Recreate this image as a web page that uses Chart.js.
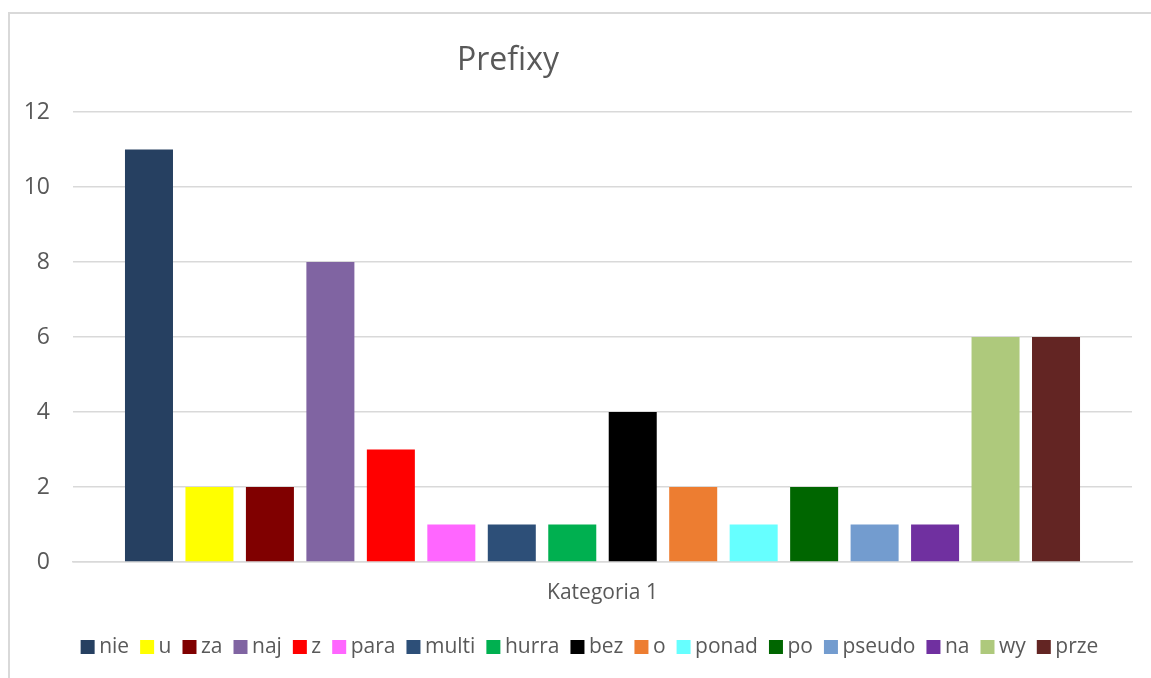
<!DOCTYPE html>
<html>
<head>
<meta charset="utf-8">
<script src="https://cdn.jsdelivr.net/npm/chart.js@4/dist/chart.umd.min.js"></script>
<style>
  html, body { margin: 0; padding: 0; background: #fff; }
  #wrap { width: 1151px; height: 678px; position: relative; }
</style>
</head>
<body>
<div id="wrap"><canvas id="chart"></canvas></div>
<script>
const categories = ["Kategoria 1"];
const seriesNames = ["nie", "u", "za", "naj", "z", "para", "multi", "hurra", "bez", "o", "ponad", "po", "pseudo", "na", "wy", "prze"];
const seriesValues = [11, 2, 2, 8, 3, 1, 1, 1, 4, 2, 1, 2, 1, 1, 6, 6];
const seriesColors = ["#264061", "#FFFF00", "#800000", "#8064A2", "#FF0000", "#FF66FF", "#2D4F78", "#00B050",
  "#000000", "#ED7D31", "#66FFFF", "#006600", "#739CCF", "#7030A0", "#AEC97C", "#632523"];
const yTicks = [0, 2, 4, 6, 8, 10, 12];

const textColor = "#595959";
const gridColor = "#D9D9D9";
const fontFamily = "'Open Sans', sans-serif";

// frame round the chart + the title, which sits left of centre in the original
const frameAndTitle = {
  id: "frameAndTitle",
  afterLayout(chart) {
    // legend in the original is centred a bit to the right of the canvas middle
    chart.legend.left += 15;
    chart.legend.right += 15;
  },
  beforeDraw(chart) {
    const ctx = chart.ctx;
    ctx.save();
    ctx.strokeStyle = gridColor;
    ctx.lineWidth = 2;
    ctx.beginPath();
    ctx.moveTo(9, chart.height);
    ctx.lineTo(9, 13);
    ctx.lineTo(chart.width, 13);
    ctx.stroke();
    ctx.fillStyle = textColor;
    ctx.font = "32px " + fontFamily;
    ctx.textAlign = "center";
    ctx.textBaseline = "middle";
    ctx.fillText("Prefixy", 508, 61);
    ctx.restore();
  }
};

const datasets = seriesNames.map((name, i) => ({
  label: name,
  data: [seriesValues[i]],
  backgroundColor: seriesColors[i],
  borderWidth: 0,
  categoryPercentage: 0.9136,
  barPercentage: 0.794
}));

new Chart(document.getElementById("chart"), {
  type: "bar",
  data: { labels: categories, datasets },
  options: {
    responsive: true,
    maintainAspectRatio: false,
    animation: false,
    layout: { padding: { top: 112, left: 23, right: 19, bottom: 10.5 } },
    plugins: {
      title: { display: false },
      tooltip: { enabled: false },
      legend: {
        position: "bottom",
        labels: {
          color: textColor,
          font: { family: fontFamily, size: 21 },
          // narrow slot + rect point style so the square sits close to its text
          usePointStyle: true,
          pointStyle: "rect",
          boxWidth: 2,
          boxHeight: 14,
          padding: 17
        }
      }
    },
    scales: {
      x: {
        grid: { display: false, drawTicks: false },
        border: { display: true, color: gridColor, width: 1.5 },
        ticks: { color: textColor, font: { family: fontFamily, size: 21 }, padding: 18.5 },
        afterFit(scale) { scale.height = 57.5; }
      },
      y: {
        min: yTicks[0],
        max: yTicks[yTicks.length - 1],
        grid: { color: gridColor, lineWidth: 1.5, drawTicks: false },
        border: { display: false },
        ticks: {
          stepSize: yTicks[1] - yTicks[0],
          color: textColor,
          font: { family: fontFamily, size: 23 },
          padding: 23
        },
        afterFit(scale) { scale.width = 50; }
      }
    }
  },
  plugins: [frameAndTitle]
});
</script>
</body>
</html>
